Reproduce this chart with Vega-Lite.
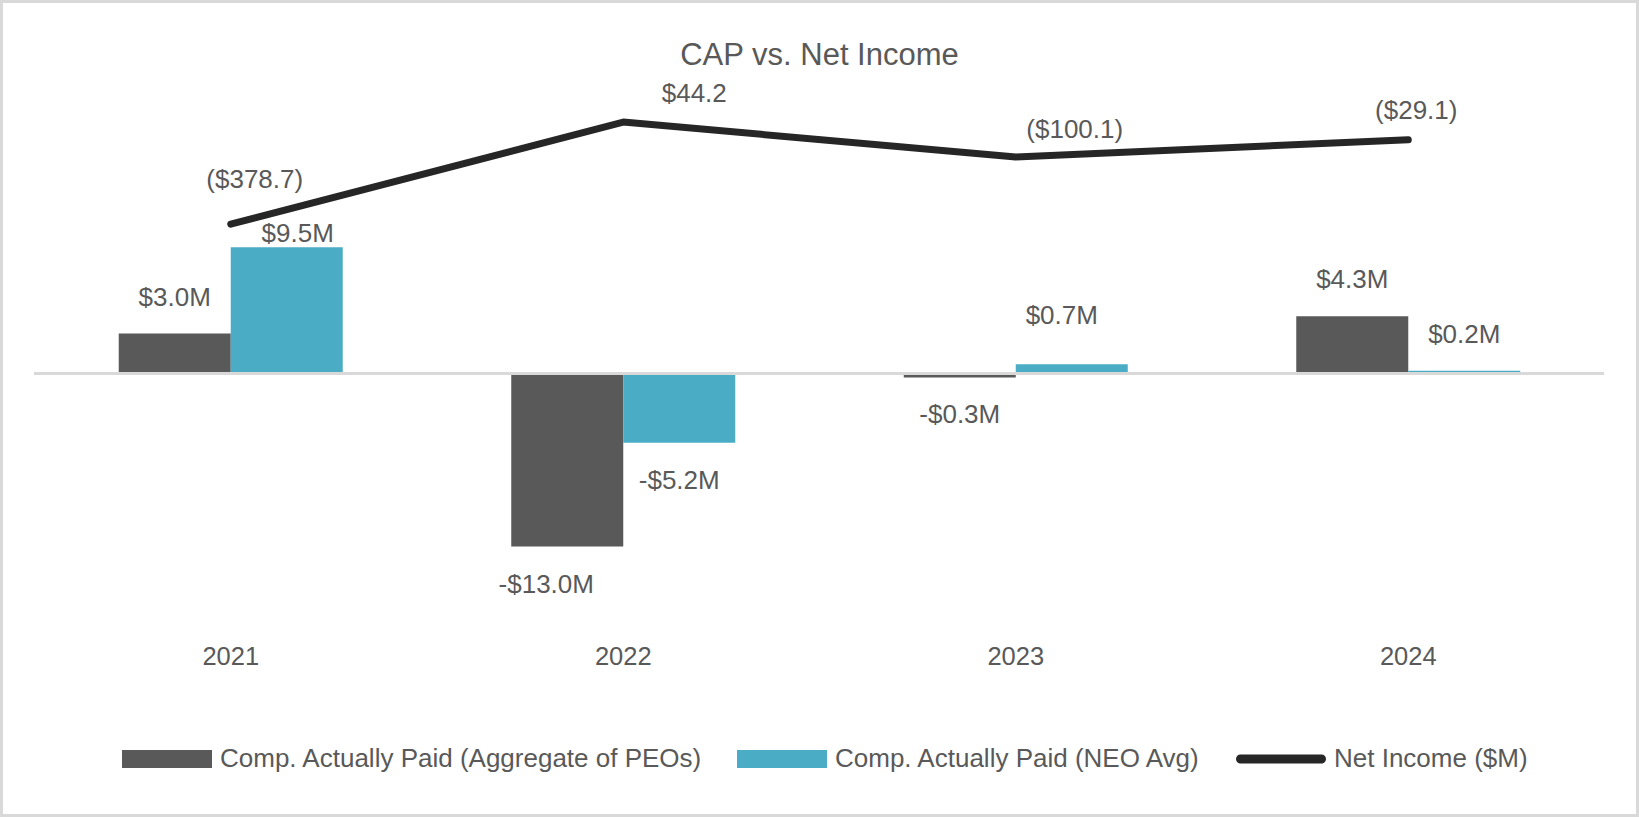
{
  "$schema": "https://vega.github.io/schema/vega-lite/v6.json",
  "width": 1639,
  "height": 817,
  "padding": 0,
  "autosize": {"type": "none"},
  "background": "white",
  "config": {
    "font": "Liberation Sans",
    "view": {"stroke": "#D9D9D9", "strokeWidth": 6, "fill": "white"},
    "text": {"font": "Liberation Sans", "fontSize": 26, "fill": "#595959"}
  },
  "title": {
    "text": "CAP vs. Net Income",
    "fontSize": 31,
    "fontWeight": "normal",
    "color": "#595959",
    "font": "Liberation Sans",
    "anchor": "middle",
    "frame": "group",
    "offset": -96,
    "baseline": "alphabetic"
  },
  "datasets": {
    "cap": [
      {"year": "2021", "series": "Comp. Actually Paid (Aggregate of PEOs)", "value": 3.0, "label": "$3.0M"},
      {"year": "2021", "series": "Comp. Actually Paid (NEO Avg)", "value": 9.5, "label": "$9.5M"},
      {"year": "2022", "series": "Comp. Actually Paid (Aggregate of PEOs)", "value": -13.0, "label": "-$13.0M"},
      {"year": "2022", "series": "Comp. Actually Paid (NEO Avg)", "value": -5.2, "label": "-$5.2M"},
      {"year": "2023", "series": "Comp. Actually Paid (Aggregate of PEOs)", "value": -0.3, "label": "-$0.3M"},
      {"year": "2023", "series": "Comp. Actually Paid (NEO Avg)", "value": 0.7, "label": "$0.7M"},
      {"year": "2024", "series": "Comp. Actually Paid (Aggregate of PEOs)", "value": 4.3, "label": "$4.3M"},
      {"year": "2024", "series": "Comp. Actually Paid (NEO Avg)", "value": 0.2, "label": "$0.2M"}
    ],
    "ni": [
      {"year": "2021", "series": "Net Income ($M)", "value": -378.7, "label": "($378.7)"},
      {"year": "2022", "series": "Net Income ($M)", "value": 44.2, "label": "$44.2"},
      {"year": "2023", "series": "Net Income ($M)", "value": -100.1, "label": "($100.1)"},
      {"year": "2024", "series": "Net Income ($M)", "value": -29.1, "label": "($29.1)"}
    ]
  },
  "resolve": {"scale": {"x": "independent", "y": "independent"}},
  "layer": [
    {
      "encoding": {
        "x": {
          "field": "year",
          "type": "nominal",
          "scale": {"domain": ["2021", "2022", "2023", "2024"], "paddingInner": 0.4293, "paddingOuter": 0.3025},
          "axis": {
            "orient": "bottom",
            "offset": -153,
            "domain": false,
            "ticks": false,
            "tickSize": 0,
            "grid": false,
            "labelPadding": 0,
            "labelBaseline": "alphabetic",
            "labelAngle": 0,
            "labelFontSize": 25.5,
            "labelColor": "#595959",
            "labelFont": "Liberation Sans",
            "title": null
          }
        }
      },
      "resolve": {"scale": {"y": "independent"}},
      "layer": [
        {
          "data": {"name": "cap"},
          "encoding": {
            "xOffset": {"field": "series", "type": "nominal", "scale": {"domain": ["Comp. Actually Paid (Aggregate of PEOs)", "Comp. Actually Paid (NEO Avg)"]}},
            "y": {"field": "value", "type": "quantitative", "scale": {"domain": [-33.346, 28.083], "nice": false, "zero": false}, "axis": null}
          },
          "layer": [
            {
              "mark": {"type": "bar"},
              "encoding": {
                "color": {
                  "field": "series",
                  "type": "nominal",
                  "scale": {
                    "domain": ["Comp. Actually Paid (Aggregate of PEOs)", "Comp. Actually Paid (NEO Avg)", "Net Income ($M)"],
                    "range": ["#595959", "#4BACC6", "#262626"]
                  },
                  "legend": {
                    "orient": "none",
                    "legendX": 122,
                    "legendY": 714,
                    "direction": "horizontal",
                    "columns": 3,
                    "title": null,
                    "padding": 0,
                    "symbolSize": 8100,
                    "symbolStrokeWidth": 0,
                    "labelFontSize": 26,
                    "labelColor": "#595959",
                    "labelFont": "Liberation Sans",
                    "labelOffset": 8,
                    "labelLimit": 0,
                    "columnPadding": 34,
                    "encode": {
                      "symbols": {
                        "update": {
                          "shape": {"signal": "datum.value == 'Net Income ($M)' ? 'M-0.9,-0.1L0.9,-0.1A0.1,0.1 0 0 1 0.9,0.1L-0.9,0.1A0.1,0.1 0 0 1 -0.9,-0.1Z' : 'M-1,-0.2L1,-0.2L1,0.2L-1,0.2Z'"},
                          "fill": {"scale": "color", "field": "value"},
                          "strokeWidth": {"value": 0},
                          "opacity": {"value": 1}
                        }
                      }
                    }
                  }
                }
              }
            },
            {
              "transform": [{"filter": "datum.value > 0 && datum.label != '$9.5M' && datum.label != '$0.7M'"}],
              "mark": {"type": "text", "baseline": "alphabetic", "dy": -28},
              "encoding": {"text": {"field": "label"}}
            },
            {
              "transform": [{"filter": "datum.label == '$9.5M'"}],
              "mark": {"type": "text", "baseline": "alphabetic", "dy": -5, "dx": 11},
              "encoding": {"text": {"field": "label"}}
            },
            {
              "transform": [{"filter": "datum.label == '$0.7M'"}],
              "mark": {"type": "text", "baseline": "alphabetic", "dy": -40, "dx": -10},
              "encoding": {"text": {"field": "label"}}
            },
            {
              "transform": [{"filter": "datum.value < 0 && datum.label != '-$13.0M'"}],
              "mark": {"type": "text", "baseline": "alphabetic", "dy": 46},
              "encoding": {"text": {"field": "label"}}
            },
            {
              "transform": [{"filter": "datum.label == '-$13.0M'"}],
              "mark": {"type": "text", "baseline": "alphabetic", "dy": 47, "dx": -21},
              "encoding": {"text": {"field": "label"}}
            }
          ]
        },
        {
          "data": {"name": "ni"},
          "encoding": {
            "y": {"field": "value", "type": "quantitative", "scale": {"domain": [-2833.3, 549.7], "nice": false, "zero": false}, "axis": null}
          },
          "layer": [
            {
              "mark": {"type": "line", "strokeWidth": 7, "strokeCap": "round", "strokeJoin": "round"},
              "encoding": {"color": {"field": "series", "type": "nominal"}}
            },
            {
              "transform": [{"filter": "datum.year == '2021'"}],
              "mark": {"type": "text", "baseline": "alphabetic", "dx": 24, "dy": -36},
              "encoding": {"text": {"field": "label"}}
            },
            {
              "transform": [{"filter": "datum.year == '2022'"}],
              "mark": {"type": "text", "baseline": "alphabetic", "dx": 71, "dy": -20},
              "encoding": {"text": {"field": "label"}}
            },
            {
              "transform": [{"filter": "datum.year == '2023'"}],
              "mark": {"type": "text", "baseline": "alphabetic", "dx": 59, "dy": -19},
              "encoding": {"text": {"field": "label"}}
            },
            {
              "transform": [{"filter": "datum.year == '2024'"}],
              "mark": {"type": "text", "baseline": "alphabetic", "dx": 8, "dy": -21},
              "encoding": {"text": {"field": "label"}}
            }
          ]
        }
      ]
    },
    {
      "data": {"values": [{"baseline": 0}]},
      "mark": {"type": "rule", "color": "#D9D9D9", "strokeWidth": 3},
      "encoding": {
        "x": {"datum": 0, "type": "quantitative", "scale": {"domain": [-0.021656, 1.02229], "nice": false, "zero": false}, "axis": null},
        "x2": {"datum": 1},
        "y": {"field": "baseline", "type": "quantitative", "scale": {"domain": [-33.346, 28.083], "nice": false, "zero": false}, "axis": null}
      }
    }
  ]
}
